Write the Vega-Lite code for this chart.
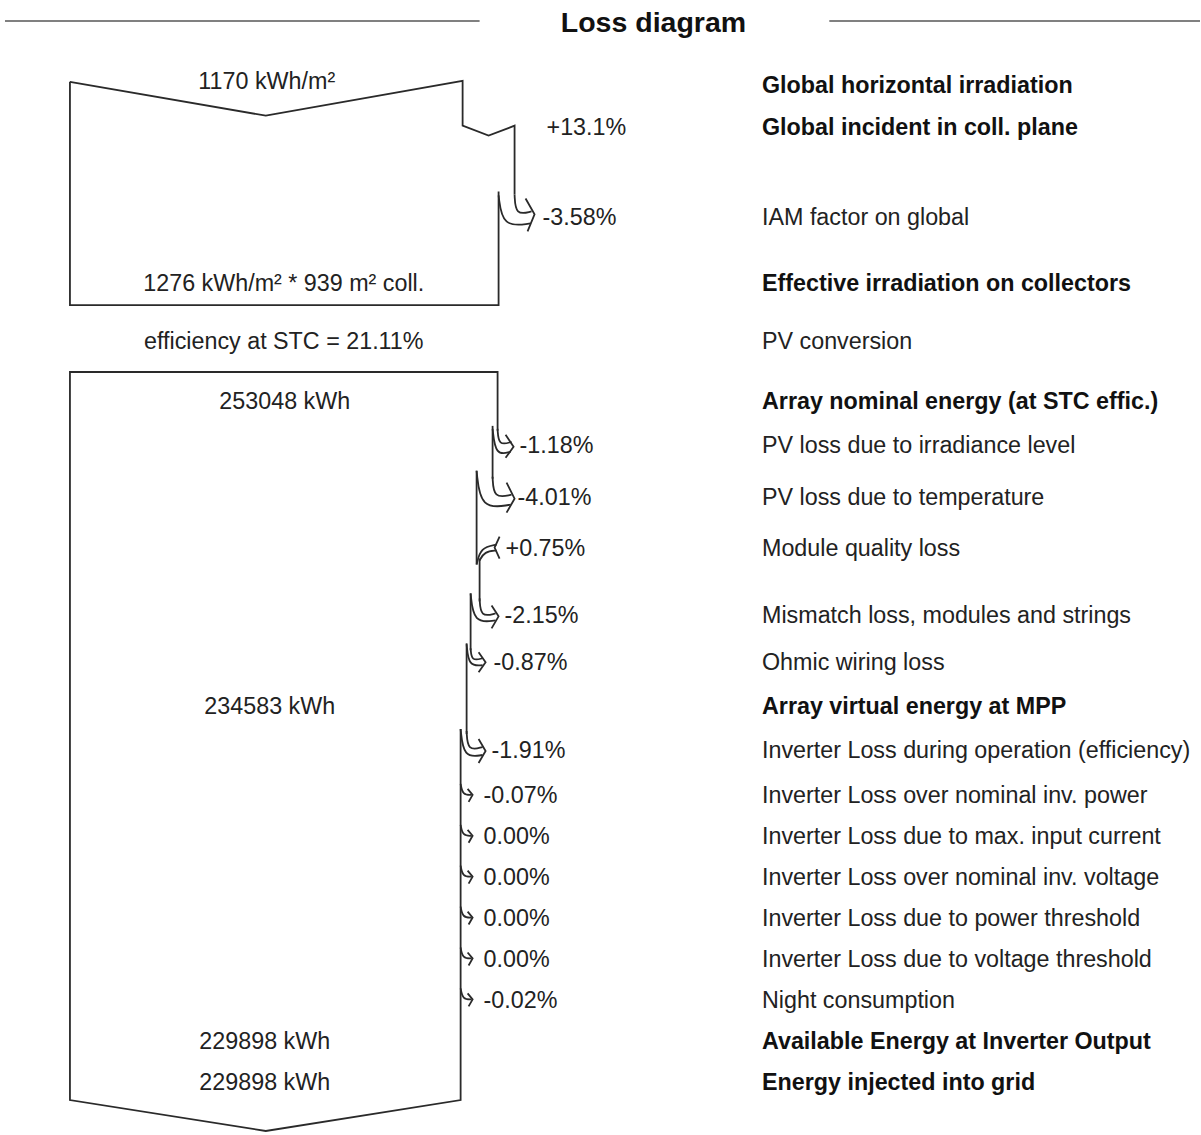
{
  "$schema": "https://vega.github.io/schema/vega-lite/v6.json",
  "width": 1201,
  "height": 1135,
  "autosize": {"type": "fit", "contains": "padding"},
  "padding": 0,
  "background": "white",
  "config": {"view": {"stroke": null}},
  "datasets": {
    "titleRules": [
      {"x": 5, "x2": 480, "y": 21},
      {"x": 830, "x2": 1201, "y": 21}
    ],
    "titleText": [{"x": 654, "y": 22, "t": "Loss diagram"}],
    "outline": [
      {"p": "t1", "i": 0, "x": 70, "y": 82}, {"p": "t1", "i": 1, "x": 266, "y": 116}, {"p": "t1", "i": 2, "x": 463, "y": 81}, {"p": "t1", "i": 3, "x": 463, "y": 126}, {"p": "t1", "i": 4, "x": 489, "y": 136}, {"p": "t1", "i": 5, "x": 515, "y": 126}, {"p": "t1", "i": 6, "x": 515, "y": 195},
      {"p": "t2", "i": 0, "x": 499, "y": 192}, {"p": "t2", "i": 1, "x": 499, "y": 306}, {"p": "t2", "i": 2, "x": 70, "y": 306}, {"p": "t2", "i": 3, "x": 70, "y": 82},
      {"p": "b1", "i": 0, "x": 498, "y": 432}, {"p": "b1", "i": 1, "x": 498, "y": 373}, {"p": "b1", "i": 2, "x": 70, "y": 373}, {"p": "b1", "i": 3, "x": 70, "y": 1103}, {"p": "b1", "i": 4, "x": 266, "y": 1134}, {"p": "b1", "i": 5, "x": 461, "y": 1103}, {"p": "b1", "i": 6, "x": 461, "y": 731},
      {"p": "e1", "i": 0, "x": 493, "y": 427}, {"p": "e1", "i": 1, "x": 493, "y": 480},
      {"p": "e2", "i": 0, "x": 477, "y": 472}, {"p": "e2", "i": 1, "x": 477, "y": 566},
      {"p": "e3", "i": 0, "x": 480, "y": 560}, {"p": "e3", "i": 1, "x": 480, "y": 603},
      {"p": "e4", "i": 0, "x": 471, "y": 595}, {"p": "e4", "i": 1, "x": 471, "y": 652},
      {"p": "e5", "i": 0, "x": 467, "y": 645}, {"p": "e5", "i": 1, "x": 467, "y": 736},
      {"p": "h0", "i": 0, "x": 526, "y": 199}, {"p": "h0", "i": 1, "x": 535, "y": 215}, {"p": "h0", "i": 2, "x": 528, "y": 232},
      {"p": "h1", "i": 0, "x": 506, "y": 436}, {"p": "h1", "i": 1, "x": 514, "y": 448}, {"p": "h1", "i": 2, "x": 506, "y": 459},
      {"p": "h2", "i": 0, "x": 507, "y": 484}, {"p": "h2", "i": 1, "x": 515, "y": 500}, {"p": "h2", "i": 2, "x": 507, "y": 514},
      {"p": "h3", "i": 0, "x": 500, "y": 538}, {"p": "h3", "i": 1, "x": 495, "y": 549}, {"p": "h3", "i": 2, "x": 500, "y": 560},
      {"p": "h4", "i": 0, "x": 492, "y": 607}, {"p": "h4", "i": 1, "x": 499, "y": 618}, {"p": "h4", "i": 2, "x": 492, "y": 630},
      {"p": "h5", "i": 0, "x": 479, "y": 654}, {"p": "h5", "i": 1, "x": 486, "y": 664}, {"p": "h5", "i": 2, "x": 479, "y": 674},
      {"p": "h6", "i": 0, "x": 479, "y": 741}, {"p": "h6", "i": 1, "x": 486, "y": 753}, {"p": "h6", "i": 2, "x": 479, "y": 765},
      {"p": "h7", "i": 0, "x": 468, "y": 791}, {"p": "h7", "i": 1, "x": 473, "y": 797}, {"p": "h7", "i": 2, "x": 469, "y": 804},
      {"p": "h8", "i": 0, "x": 468, "y": 832}, {"p": "h8", "i": 1, "x": 473, "y": 838}, {"p": "h8", "i": 2, "x": 469, "y": 845},
      {"p": "h9", "i": 0, "x": 468, "y": 873}, {"p": "h9", "i": 1, "x": 473, "y": 879}, {"p": "h9", "i": 2, "x": 469, "y": 886},
      {"p": "h10", "i": 0, "x": 468, "y": 914}, {"p": "h10", "i": 1, "x": 473, "y": 920}, {"p": "h10", "i": 2, "x": 469, "y": 927},
      {"p": "h11", "i": 0, "x": 468, "y": 955}, {"p": "h11", "i": 1, "x": 473, "y": 961}, {"p": "h11", "i": 2, "x": 469, "y": 968},
      {"p": "h12", "i": 0, "x": 468, "y": 996}, {"p": "h12", "i": 1, "x": 473, "y": 1002}, {"p": "h12", "i": 2, "x": 469, "y": 1009}
    ],
    "curves": [
      {"p": "c0o", "i": 0, "x": 515, "y": 195}, {"p": "c0o", "i": 1, "x": 516, "y": 216}, {"p": "c0o", "i": 2, "x": 532, "y": 212},
      {"p": "c0i", "i": 0, "x": 499, "y": 196}, {"p": "c0i", "i": 1, "x": 503, "y": 228}, {"p": "c0i", "i": 2, "x": 531, "y": 224},
      {"p": "c1o", "i": 0, "x": 498, "y": 430}, {"p": "c1o", "i": 1, "x": 499, "y": 447}, {"p": "c1o", "i": 2, "x": 512, "y": 443},
      {"p": "c1i", "i": 0, "x": 493, "y": 430}, {"p": "c1i", "i": 1, "x": 496, "y": 457}, {"p": "c1i", "i": 2, "x": 511, "y": 453},
      {"p": "c2o", "i": 0, "x": 493, "y": 478}, {"p": "c2o", "i": 1, "x": 494, "y": 500}, {"p": "c2o", "i": 2, "x": 512, "y": 496},
      {"p": "c2i", "i": 0, "x": 477, "y": 472}, {"p": "c2i", "i": 1, "x": 481, "y": 511}, {"p": "c2i", "i": 2, "x": 511, "y": 506},
      {"p": "c3a", "i": 0, "x": 477, "y": 566}, {"p": "c3a", "i": 1, "x": 481, "y": 549}, {"p": "c3a", "i": 2, "x": 497, "y": 546},
      {"p": "c3b", "i": 0, "x": 480, "y": 562}, {"p": "c3b", "i": 1, "x": 485, "y": 553}, {"p": "c3b", "i": 2, "x": 497, "y": 552},
      {"p": "c4o", "i": 0, "x": 480, "y": 600}, {"p": "c4o", "i": 1, "x": 481, "y": 619}, {"p": "c4o", "i": 2, "x": 496, "y": 615},
      {"p": "c4i", "i": 0, "x": 471, "y": 595}, {"p": "c4i", "i": 1, "x": 474, "y": 625}, {"p": "c4i", "i": 2, "x": 496, "y": 622},
      {"p": "c5o", "i": 0, "x": 471, "y": 650}, {"p": "c5o", "i": 1, "x": 472, "y": 663}, {"p": "c5o", "i": 2, "x": 483, "y": 660},
      {"p": "c5i", "i": 0, "x": 467, "y": 646}, {"p": "c5i", "i": 1, "x": 469, "y": 668}, {"p": "c5i", "i": 2, "x": 483, "y": 667},
      {"p": "c6o", "i": 0, "x": 467, "y": 733}, {"p": "c6o", "i": 1, "x": 468, "y": 753}, {"p": "c6o", "i": 2, "x": 483, "y": 749},
      {"p": "c6i", "i": 0, "x": 461, "y": 731}, {"p": "c6i", "i": 1, "x": 464, "y": 760}, {"p": "c6i", "i": 2, "x": 483, "y": 757},
      {"p": "s7", "i": 0, "x": 461, "y": 786}, {"p": "s7", "i": 1, "x": 463, "y": 797}, {"p": "s7", "i": 2, "x": 472, "y": 797},
      {"p": "s8", "i": 0, "x": 461, "y": 827}, {"p": "s8", "i": 1, "x": 463, "y": 838}, {"p": "s8", "i": 2, "x": 472, "y": 838},
      {"p": "s9", "i": 0, "x": 461, "y": 868}, {"p": "s9", "i": 1, "x": 463, "y": 879}, {"p": "s9", "i": 2, "x": 472, "y": 879},
      {"p": "s10", "i": 0, "x": 461, "y": 909}, {"p": "s10", "i": 1, "x": 463, "y": 920}, {"p": "s10", "i": 2, "x": 472, "y": 920},
      {"p": "s11", "i": 0, "x": 461, "y": 950}, {"p": "s11", "i": 1, "x": 463, "y": 961}, {"p": "s11", "i": 2, "x": 472, "y": 961},
      {"p": "s12", "i": 0, "x": 461, "y": 991}, {"p": "s12", "i": 1, "x": 463, "y": 1002}, {"p": "s12", "i": 2, "x": 472, "y": 1002}
    ],
    "values": [
      {"x": 267, "y": 81, "t": "1170 kWh/m²"},
      {"x": 284, "y": 283, "t": "1276 kWh/m² * 939 m² coll."},
      {"x": 284, "y": 341, "t": "efficiency at STC = 21.11%"},
      {"x": 285, "y": 402, "t": "253048 kWh"},
      {"x": 270, "y": 707, "t": "234583 kWh"},
      {"x": 265, "y": 1043, "t": "229898 kWh"},
      {"x": 265, "y": 1084, "t": "229898 kWh"}
    ],
    "pcts": [
      {"x": 547, "y": 127, "t": "+13.1%"},
      {"x": 543, "y": 217, "t": "-3.58%"},
      {"x": 520, "y": 446, "t": "-1.18%"},
      {"x": 518, "y": 498, "t": "-4.01%"},
      {"x": 506, "y": 549, "t": "+0.75%"},
      {"x": 505, "y": 616, "t": "-2.15%"},
      {"x": 494, "y": 663, "t": "-0.87%"},
      {"x": 492, "y": 751, "t": "-1.91%"},
      {"x": 484, "y": 797, "t": "-0.07%"},
      {"x": 484, "y": 838, "t": "0.00%"},
      {"x": 484, "y": 879, "t": "0.00%"},
      {"x": 484, "y": 920, "t": "0.00%"},
      {"x": 484, "y": 961, "t": "0.00%"},
      {"x": 484, "y": 1002, "t": "-0.02%"}
    ],
    "labels": [
      {"y": 85, "kind": "stage", "t": "Global horizontal irradiation"},
      {"y": 127, "kind": "stage", "t": "Global incident in coll. plane"},
      {"y": 217, "kind": "loss", "t": "IAM factor on global"},
      {"y": 283, "kind": "stage", "t": "Effective irradiation on collectors"},
      {"y": 341, "kind": "loss", "t": "PV conversion"},
      {"y": 402, "kind": "stage", "t": "Array nominal energy (at STC effic.)"},
      {"y": 446, "kind": "loss", "t": "PV loss due to irradiance level"},
      {"y": 498, "kind": "loss", "t": "PV loss due to temperature"},
      {"y": 549, "kind": "loss", "t": "Module quality loss"},
      {"y": 616, "kind": "loss", "t": "Mismatch loss, modules and strings"},
      {"y": 663, "kind": "loss", "t": "Ohmic wiring loss"},
      {"y": 707, "kind": "stage", "t": "Array virtual energy at MPP"},
      {"y": 751, "kind": "loss", "t": "Inverter Loss during operation (efficiency)"},
      {"y": 797, "kind": "loss", "t": "Inverter Loss over nominal inv. power"},
      {"y": 838, "kind": "loss", "t": "Inverter Loss due to max. input current"},
      {"y": 879, "kind": "loss", "t": "Inverter Loss over nominal inv. voltage"},
      {"y": 920, "kind": "loss", "t": "Inverter Loss due to power threshold"},
      {"y": 961, "kind": "loss", "t": "Inverter Loss due to voltage threshold"},
      {"y": 1002, "kind": "loss", "t": "Night consumption"},
      {"y": 1043, "kind": "stage", "t": "Available Energy at Inverter Output"},
      {"y": 1084, "kind": "stage", "t": "Energy injected into grid"}
    ]
  },
  "layer": [
    {
      "data": {"name": "titleRules"},
      "mark": {"type": "rule", "color": "#808080", "strokeWidth": 2},
      "encoding": {
        "x": {"field": "x", "type": "quantitative", "scale": {"domain": [0, 1201], "nice": false, "zero": false}, "axis": null},
        "x2": {"field": "x2"},
        "y": {"field": "y", "type": "quantitative", "scale": {"domain": [0, 1135], "reverse": true, "nice": false, "zero": false}, "axis": null}
      }
    },
    {
      "data": {"name": "titleText"},
      "mark": {"type": "text", "font": "Liberation Sans", "fontSize": 28.5, "fontWeight": "bold", "color": "#111", "align": "center", "baseline": "middle", "dy": 1},
      "encoding": {
        "x": {"field": "x", "type": "quantitative"},
        "y": {"field": "y", "type": "quantitative"},
        "text": {"field": "t"}
      }
    },
    {
      "data": {"name": "outline"},
      "mark": {"type": "line", "color": "#2a2a2a", "strokeWidth": 1.8, "interpolate": "linear"},
      "encoding": {
        "x": {"field": "x", "type": "quantitative"},
        "y": {"field": "y", "type": "quantitative"},
        "detail": {"field": "p"},
        "order": {"field": "i"}
      }
    },
    {
      "data": {"name": "curves"},
      "mark": {"type": "line", "color": "#2a2a2a", "strokeWidth": 1.8, "interpolate": "basis"},
      "encoding": {
        "x": {"field": "x", "type": "quantitative"},
        "y": {"field": "y", "type": "quantitative"},
        "detail": {"field": "p"},
        "order": {"field": "i"}
      }
    },
    {
      "data": {"name": "values"},
      "mark": {"type": "text", "font": "Liberation Sans", "fontSize": 23.3, "color": "#222", "align": "center", "baseline": "middle", "dy": 1.5},
      "encoding": {
        "x": {"field": "x", "type": "quantitative"},
        "y": {"field": "y", "type": "quantitative"},
        "text": {"field": "t"}
      }
    },
    {
      "data": {"name": "pcts"},
      "mark": {"type": "text", "font": "Liberation Sans", "fontSize": 23.3, "color": "#222", "align": "left", "baseline": "middle", "dy": 1.5},
      "encoding": {
        "x": {"field": "x", "type": "quantitative"},
        "y": {"field": "y", "type": "quantitative"},
        "text": {"field": "t"}
      }
    },
    {
      "data": {"name": "labels"},
      "transform": [{"filter": "datum.kind === 'stage'"}],
      "mark": {"type": "text", "font": "Liberation Sans", "fontSize": 23.3, "fontWeight": "bold", "color": "#111", "align": "left", "baseline": "middle", "x": 762, "dy": 1.5},
      "encoding": {
        "y": {"field": "y", "type": "quantitative"},
        "text": {"field": "t"}
      }
    },
    {
      "data": {"name": "labels"},
      "transform": [{"filter": "datum.kind === 'loss'"}],
      "mark": {"type": "text", "font": "Liberation Sans", "fontSize": 23.3, "color": "#222", "align": "left", "baseline": "middle", "x": 762, "dy": 1.5},
      "encoding": {
        "y": {"field": "y", "type": "quantitative"},
        "text": {"field": "t"}
      }
    }
  ]
}
